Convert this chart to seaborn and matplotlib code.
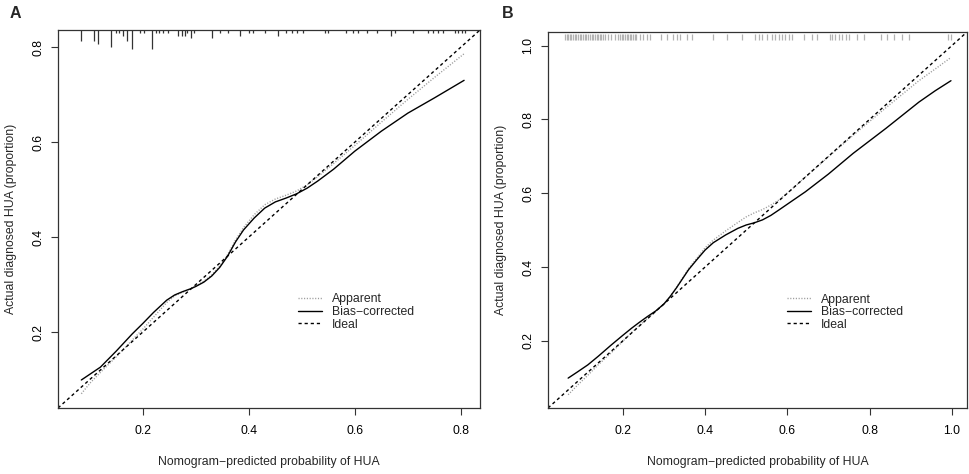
import numpy as np
import pandas as pd
import matplotlib
matplotlib.use("Agg")
import matplotlib.pyplot as plt
import seaborn as sns

sns.set_style("ticks")
plt.rcParams['font.family'] = ['Liberation Sans', 'DejaVu Sans']

# ---------------- data: panel A ----------------
a_pred = [0.084, 0.10, 0.12, 0.15, 0.18, 0.20, 0.22, 0.245, 0.26, 0.275, 0.29, 0.30,
          0.315, 0.33, 0.345, 0.36, 0.375, 0.39, 0.41, 0.43, 0.45, 0.47, 0.49, 0.51,
          0.53, 0.56, 0.60, 0.65, 0.70, 0.75, 0.806]
a_bias = [0.099, 0.111, 0.126, 0.160, 0.196, 0.218, 0.241, 0.267, 0.278, 0.285, 0.291, 0.296,
          0.305, 0.318, 0.336, 0.360, 0.390, 0.415, 0.440, 0.461, 0.474, 0.482, 0.491, 0.503,
          0.518, 0.543, 0.581, 0.623, 0.661, 0.693, 0.730]
a_app = [0.070, 0.092, 0.115, 0.148, 0.183, 0.206, 0.231, 0.262, 0.276, 0.284, 0.291, 0.297,
         0.307, 0.320, 0.339, 0.363, 0.394, 0.420, 0.447, 0.468, 0.480, 0.488, 0.497, 0.510,
         0.527, 0.555, 0.593, 0.642, 0.690, 0.736, 0.786]
a_rug_x = [0.084, 0.108, 0.115, 0.140, 0.149, 0.155, 0.163, 0.171, 0.179, 0.194, 0.202,
           0.218, 0.225, 0.231, 0.238, 0.248, 0.267, 0.273, 0.279, 0.284, 0.290, 0.296,
           0.330, 0.345, 0.361, 0.383, 0.401, 0.408, 0.431, 0.455, 0.471, 0.481, 0.490,
           0.503, 0.543, 0.549, 0.584, 0.597, 0.606, 0.622, 0.641, 0.669, 0.675, 0.710,
           0.738, 0.748, 0.757, 0.767, 0.789, 0.795, 0.802, 0.808]
a_rug_n = [4, 4, 5, 6, 1, 1, 2, 4, 7, 1, 1,
           7, 1, 1, 1, 1, 2, 2, 2, 1, 3, 1,
           3, 1, 1, 2, 1, 1, 1, 2, 1, 1, 1,
           1, 1, 1, 1, 1, 1, 1, 1, 2, 1, 1,
           1, 1, 1, 1, 1, 1, 1, 1]

# ---------------- data: panel B ----------------
b_pred = [0.067, 0.09, 0.115, 0.14, 0.172, 0.20, 0.221, 0.24, 0.26, 0.28, 0.30, 0.315,
          0.33, 0.345, 0.36, 0.38, 0.40, 0.42, 0.45, 0.48, 0.50, 0.52, 0.54, 0.56, 0.58,
          0.61, 0.644, 0.70, 0.76, 0.84, 0.92, 0.96, 0.998]
b_bias = [0.099, 0.116, 0.135, 0.158, 0.189, 0.215, 0.234, 0.250, 0.266, 0.281, 0.300, 0.320,
          0.343, 0.368, 0.393, 0.420, 0.446, 0.466, 0.487, 0.505, 0.514, 0.520, 0.528, 0.540, 0.555,
          0.578, 0.604, 0.652, 0.708, 0.776, 0.847, 0.878, 0.905]
b_app = [0.054, 0.080, 0.107, 0.135, 0.168, 0.199, 0.222, 0.242, 0.261, 0.280, 0.300, 0.320,
         0.344, 0.370, 0.396, 0.424, 0.452, 0.473, 0.498, 0.521, 0.536, 0.547, 0.556, 0.568, 0.582,
         0.610, 0.644, 0.699, 0.757, 0.832, 0.905, 0.937, 0.968]
b_rug_x = [0.059, 0.063, 0.067, 0.071, 0.075, 0.079, 0.083, 0.087, 0.091, 0.095, 0.099,
           0.103, 0.107, 0.111, 0.116, 0.120, 0.124, 0.128, 0.132, 0.136, 0.140, 0.144,
           0.148, 0.152, 0.156, 0.164, 0.172, 0.181, 0.189, 0.193, 0.197, 0.201, 0.205,
           0.209, 0.213, 0.217, 0.221, 0.225, 0.229, 0.233, 0.242, 0.250, 0.258, 0.266,
           0.294, 0.307, 0.323, 0.331, 0.339, 0.355, 0.368, 0.420, 0.453, 0.490, 0.522,
           0.530, 0.538, 0.550, 0.563, 0.571, 0.579, 0.587, 0.595, 0.603, 0.611, 0.640,
           0.660, 0.672, 0.705, 0.709, 0.717, 0.725, 0.733, 0.742, 0.750, 0.770, 0.786,
           0.827, 0.843, 0.859, 0.880, 0.896, 0.990, 0.997]

# ---------------- figure ----------------
fig = plt.figure(figsize=(9.7, 4.74), dpi=100)
axA = fig.add_axes([58 / 970, 1 - 408 / 474, 422 / 970, 378 / 474])
axB = fig.add_axes([548 / 970, 1 - 408 / 474, 419 / 970, 376 / 474])

FS = 8.8
EDGE = "#333333"


def draw(ax, pred, app, bias, lim, ticks, rug_x, rug_len, rug_color, rug_gap, leg_anchor):
    sns.lineplot(x=pred, y=app, ax=ax, color="#9a9a9a", lw=1.0,
                 linestyle=(0, (0.8, 1.2)), label="Apparent", sort=False, estimator=None)
    sns.lineplot(x=pred, y=bias, ax=ax, color="black", lw=1.0,
                 linestyle="-", label="Bias\u2212corrected", sort=False, estimator=None)
    ax.axline((0, 0), slope=1, color="black", lw=1.0, linestyle=(0, (2.3, 2.1)),
              label="Ideal")
    top = lim[1]
    ax.vlines(rug_x, top - rug_gap - np.asarray(rug_len), top - rug_gap,
              color=rug_color, lw=0.9)
    ax.set_xlim(lim)
    ax.set_ylim(lim)
    ax.set_xticks(ticks)
    ax.set_yticks(ticks)
    ax.set_xticklabels([f"{t:.1f}" for t in ticks])
    ax.set_yticklabels([f"{t:.1f}" for t in ticks], rotation=90, va="center")
    ax.tick_params(axis="both", direction="out", length=5, width=0.8,
                   colors=EDGE, labelcolor="black", labelsize=FS)
    ax.tick_params(axis="x", pad=7)
    ax.tick_params(axis="y", pad=5)
    for s in ax.spines.values():
        s.set_visible(True)
        s.set_color(EDGE)
        s.set_linewidth(0.9)
    ax.set_xlabel("Nomogram\u2212predicted probability of HUA", fontsize=FS, labelpad=14)
    ax.set_ylabel("Actual diagnosed HUA (proportion)", fontsize=FS, labelpad=11)
    ax.legend(loc="center left", bbox_to_anchor=leg_anchor, frameon=False, fontsize=FS,
              handlelength=1.96, handletextpad=0.8, labelspacing=0.05,
              borderpad=0, borderaxespad=0)


a_lim = (0.040, 0.836)
b_lim = (0.018, 1.037)
a_scale = 0.0406 / max(a_rug_n)
draw(axA, a_pred, a_app, a_bias, a_lim, [0.2, 0.4, 0.6, 0.8],
     a_rug_x, [n * a_scale for n in a_rug_n], "#333333", 0.0, (0.569, 0.254))
draw(axB, b_pred, b_app, b_bias, b_lim, [0.2, 0.4, 0.6, 0.8, 1.0],
     b_rug_x, [0.016] * len(b_rug_x), "#b3b3b3", 0.005, (0.570, 0.255))

fig.text(15 / 970, 1 - 14 / 474, "A", fontsize=11.5, fontweight="bold", ha="center", va="center")
fig.text(508 / 970, 1 - 14 / 474, "B", fontsize=11.5, fontweight="bold", ha="center", va="center")

fig.savefig("out.png", dpi=100)
